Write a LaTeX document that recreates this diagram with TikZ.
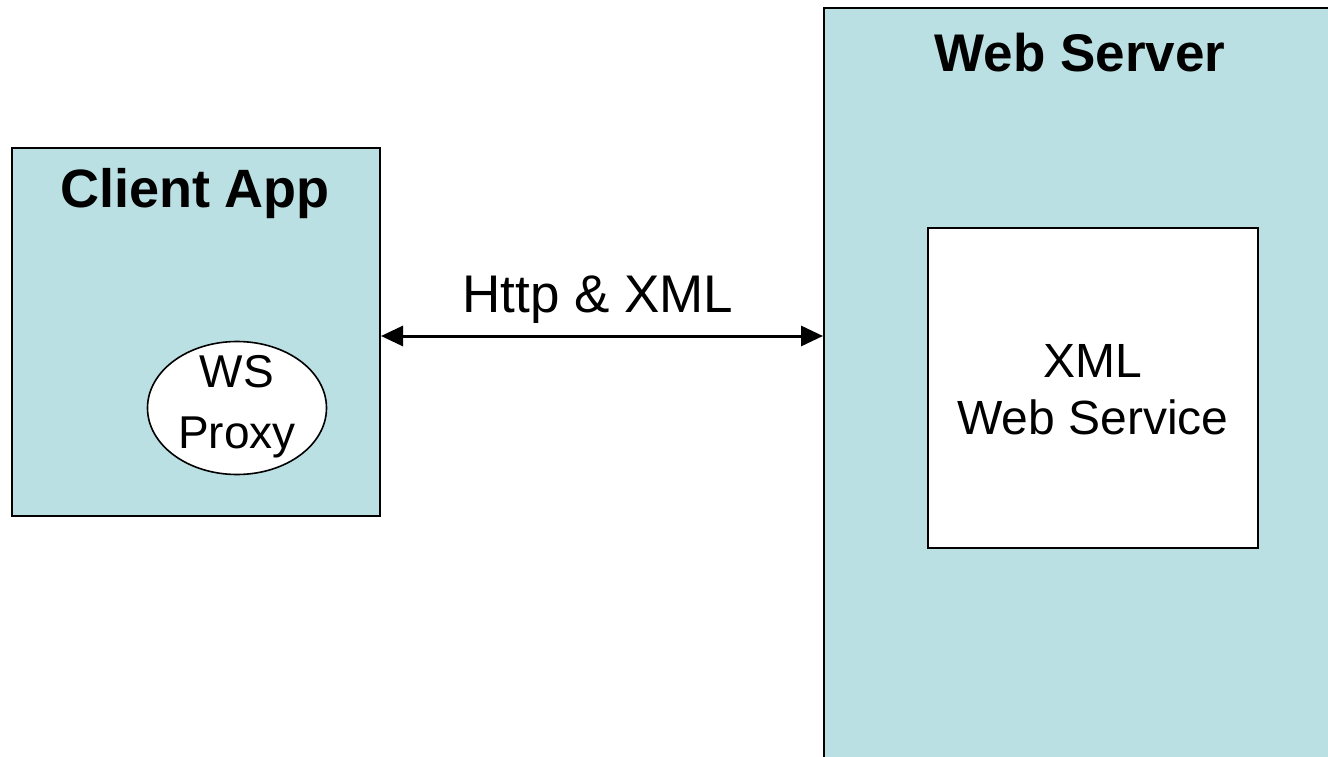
\documentclass[tikz,border=0pt]{standalone}
\usepackage{fontspec}
\setmainfont{Liberation Sans}
\usetikzlibrary{arrows.meta,shapes.geometric}
\definecolor{tierfill}{RGB}{186,224,227}
\tikzset{
  tier/.style={draw=black, line width=2pt, fill=tierfill, rectangle, inner sep=0pt},
  inner/.style={draw=black, line width=1.6pt, fill=white, rectangle, inner sep=0pt},
  proxy/.style={draw=black, line width=1.6pt, fill=white, ellipse, inner sep=0pt,
                minimum width=179pt, minimum height=133pt},
  title/.style={font=\fontsize{52}{60}\selectfont\bfseries},
  body/.style={font=\fontsize{46}{56}\selectfont, align=center},
  link/.style={line width=3pt, {Triangle[length=22pt,width=20pt]}-{Triangle[length=22pt,width=20pt]}}
}
\begin{document}
\begin{tikzpicture}[x=1pt, y=-1pt]
  \useasboundingbox (0,0) rectangle (1328,757);
  \clip (0,0) rectangle (1328,757);

  % client side
  \node[tier, minimum width=368pt, minimum height=368pt] (client) at (196,332) {};
  \node[title, font=\fontsize{54}{60}\selectfont\bfseries] (clienttitle) at (195,194) {Client App};
  \node[proxy] (proxy) at (237,408) {};
  \node[body, font=\fontsize{46}{61}\selectfont] (proxytext) at (237,407) {WS\\Proxy};

  % server side (runs past the right and bottom edges)
  \node[tier, minimum width=516pt, minimum height=762pt] (server) at (1082,389) {};
  \node[title, font=\fontsize{53}{60}\selectfont\bfseries] (servertitle) at (1080,53) {Web Server};
  \node[inner, minimum width=330pt, minimum height=320pt] (service) at (1093,388) {};
  \node[body, font=\fontsize{48}{57}\selectfont] (servicetext) at (1093,390) {XML\\Web Service};

  % connection
  \coordinate (linky) at (0,336);
  \draw[link] (client.east |- linky) -- (server.west |- linky);
  \node[body, font=\fontsize{53}{60}\selectfont] (linklabel) at (598,300) {Http \& XML};
\end{tikzpicture}
\end{document}
